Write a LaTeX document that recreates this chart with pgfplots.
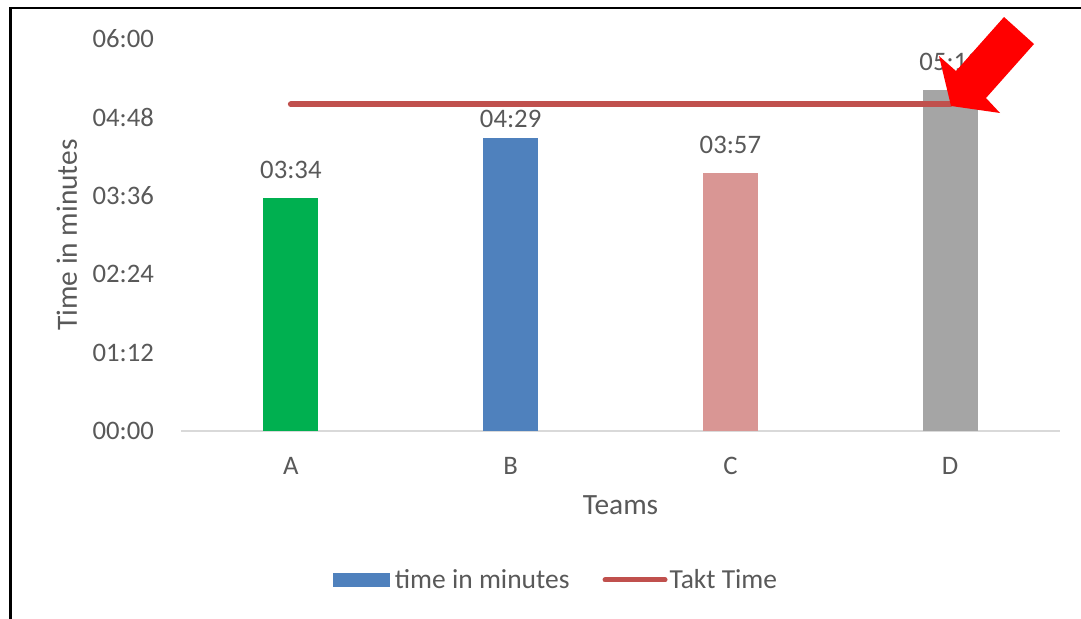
\documentclass[border=0pt]{standalone}
\usepackage{pgfplots}
\pgfplotsset{compat=1.18}
\usepackage{fontspec}
\setmainfont{Carlito}
\definecolor{barA}{HTML}{00B050}
\definecolor{barB}{HTML}{4F81BD}
\definecolor{barC}{HTML}{D99694}
\definecolor{barD}{HTML}{A5A5A5}
\definecolor{takt}{HTML}{C0504D}
\definecolor{txt}{HTML}{595959}
\definecolor{axgray}{HTML}{D9D9D9}
\begin{document}
\begin{tikzpicture}
\path[use as bounding box] (0,0) rectangle (1081bp,-619bp);
\draw[black, line width=2.5bp] (10.5bp,-8bp) rectangle (1100bp,-640bp);
\begin{axis}[
 at={(181bp,-431bp)}, anchor=south west,
 scale only axis, width=879bp, height=392bp,
 xmin=-0.5, xmax=3.5, ymin=0, ymax=360,
 clip=false,
 axis x line*=bottom, axis y line*=left,
 x axis line style={draw=axgray, line width=2bp},
 y axis line style={draw=none},
 major tick length=0pt,
 xtick={0,1,2,3}, xticklabels={A,B,C,D},
 ytick={0,72,144,216,288,360},
 yticklabels={00:00,01:12,02:24,03:36,04:48,06:00},
 tick label style={font=\fontsize{26.8}{30}\selectfont, text=txt, inner sep=0pt},
 xticklabel style={anchor=north, yshift=-26bp},
 yticklabel style={anchor=east, xshift=-27bp},
 xlabel={Teams}, ylabel={Time in minutes},
 label style={font=\fontsize{29.5}{33}\selectfont, text=txt},
 xlabel style={at={(axis description cs:0.5,-0.1888)}, anchor=center},
 ylabel style={at={(axis description cs:-0.1297,0.5)}, anchor=center},
 legend columns=2,
 legend style={at={(axis description cs:0.4266,-0.380)}, anchor=center,
   draw=none, fill=none, font=\fontsize{27.6}{31}\selectfont, text=txt,
   nodes={inner sep=2bp},
   /tikz/every even column/.append style={column sep=31bp}},
 barstyle/.style={ybar, bar width=55bp, bar shift=0pt, draw=none,
   nodes near coords style={font=\fontsize{26.8}{30}\selectfont, text=txt, anchor=south, inner sep=0pt}},
]
\addplot[barstyle, fill=barA, forget plot, nodes near coords={03:34},
  every node near coord/.append style={yshift=19bp}] coordinates {(0,214)};
\addplot[barstyle, fill=barB, nodes near coords={04:29},
  every node near coord/.append style={yshift=10.5bp},
  legend image code/.code={\fill[barB] (0bp,-7bp) rectangle (57bp,7bp); \path (60bp,0);}] coordinates {(1,269)};
\addlegendentry{time in minutes}
\addplot[barstyle, fill=barC, forget plot, nodes near coords={03:57},
  every node near coord/.append style={yshift=19bp}] coordinates {(2,237)};
\addplot[barstyle, fill=barD, forget plot, nodes near coords={05:13},
  every node near coord/.append style={yshift=19bp}] coordinates {(3,313)};
\addplot[takt, line width=6bp, line cap=round, mark=none,
  legend image code/.code={\draw[takt, line width=5bp, line cap=round] (2.5bp,0) -- (62.5bp,0);}]
  coordinates {(0,300) (3,300)};
\addlegendentry{Takt Time}
\end{axis}
\fill[red] (1004bp,-17bp) -- (1034bp,-44bp) -- (986bp,-98bp) -- (1000bp,-113bp) -- (951bp,-106bp) -- (939bp,-56bp) -- (956bp,-71bp) -- cycle;
\end{tikzpicture}
\end{document}
